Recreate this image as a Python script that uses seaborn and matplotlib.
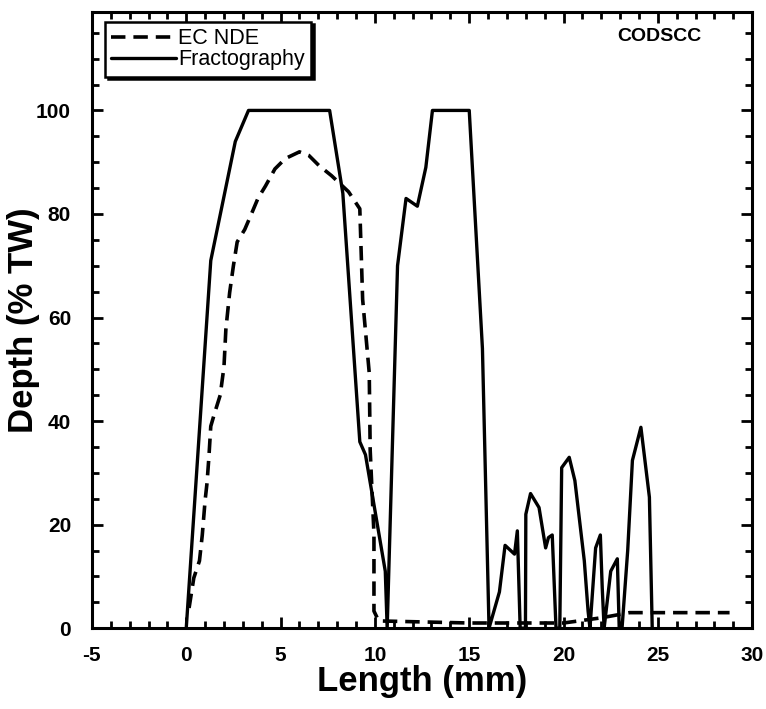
"""
Crack depth profile: EC NDE vs. fractography (CODSCC).
"""

import numpy as np
import pandas as pd
import matplotlib
matplotlib.use("Agg")
import matplotlib.pyplot as plt
import seaborn as sns
from matplotlib.ticker import MultipleLocator

# ── data ─────────────────────────────────────────────────────────────────────
ec_x = [0.15, 0.4, 0.7, 0.85, 1.0, 1.1, 1.2, 1.3, 1.5, 1.8, 2.0, 2.1, 2.3, 2.5,
        2.7, 3.1, 3.5, 3.8, 4.2, 4.7, 5.25, 6.0, 6.5, 7.05, 7.7, 8.6, 9.2, 9.35,
        9.7, 9.75, 9.95, 9.95, 10.2, 15.0, 20.0, 21.0, 22.0, 23.5, 28.8]
ec_y = [3.9, 9.7, 13, 18, 24.7, 28, 33, 39, 41.5, 45, 50.5, 57.7, 64.8, 70,
        74.6, 77, 80.4, 83, 85.4, 88.7, 90.7, 92, 91.3, 89.3, 87.4, 84.3, 81, 63.5,
        49.3, 34.4, 18.2, 3.3, 1.4, 1.0, 1.0, 1.5, 2.0, 3.0, 3.0]

frac_x = [0, 1.3, 2.6, 3.3, 7.6, 8.3, 9.2, 9.5, 10.55, 10.65,
          11.2, 11.65, 12.25, 12.7, 13.05, 15.0, 15.7, 16.05,
          16.6, 16.9, 17.4, 17.55, 17.7, 17.98,
          18.0, 18.25, 18.7, 19.05, 19.2, 19.4, 19.6,
          19.8, 19.9, 20.3, 20.6, 21.1, 21.3, 21.4,
          21.7, 21.95, 22.05, 22.15,
          22.5, 22.85, 22.95,
          23.1, 23.4, 23.65, 24.1, 24.55, 24.7]
frac_y = [0, 71, 94, 100, 100, 84, 36, 33.5, 11, 0,
          70, 83, 81.5, 89, 100, 100, 54, 0,
          7, 16, 14.3, 18.8, 0, 0,
          22, 26, 23.3, 15.5, 17.5, 18, 0,
          0, 31, 33, 28.5, 13, 3.3, 0,
          15.5, 18, 7.8, 0,
          11, 13.4, 0,
          0, 15, 32.4, 38.8, 25.3, 0]

ec = pd.DataFrame({"Length": ec_x, "Depth": ec_y})
frac = pd.DataFrame({"Length": frac_x, "Depth": frac_y})

# ── plot ─────────────────────────────────────────────────────────────────────
sns.set_style("ticks")
plt.rcParams["font.family"] = ["Liberation Sans", "DejaVu Sans"]
plt.rcParams["font.weight"] = "bold"
plt.rcParams["axes.unicode_minus"] = False
plt.rcParams["text.color"] = "black"
plt.rcParams["axes.labelcolor"] = "black"
plt.rcParams["xtick.color"] = "black"
plt.rcParams["ytick.color"] = "black"
plt.rcParams["axes.edgecolor"] = "black"

fig = plt.figure(figsize=(7.66, 7.09), dpi=100)
ax = fig.add_axes([0.12, 0.114, 0.862, 0.869])

sns.lineplot(data=ec, x="Length", y="Depth", sort=False, estimator=None,
             color="black", lw=2.6, ax=ax, label="EC NDE")
sns.lineplot(data=frac, x="Length", y="Depth", sort=False, estimator=None,
             color="black", lw=2.4, ax=ax, label="Fractography")
ax.lines[0].set_linestyle((0, (4, 2.2)))

ax.set_xlim(-5, 30)
ax.set_ylim(0, 119)
ax.xaxis.set_major_locator(MultipleLocator(5))
ax.xaxis.set_minor_locator(MultipleLocator(1))
ax.yaxis.set_major_locator(MultipleLocator(20))
ax.yaxis.set_minor_locator(MultipleLocator(5))
ax.tick_params(which="both", direction="in", top=True, right=True, width=2)
ax.tick_params(which="major", length=8, labelsize=15)
ax.tick_params(axis="x", which="major", pad=13)
ax.tick_params(axis="y", which="major", pad=15)
ax.tick_params(which="minor", length=5)
for lab in ax.get_xticklabels() + ax.get_yticklabels():
    lab.set_fontweight("bold")
for sp in ax.spines.values():
    sp.set_linewidth(2.2)

ax.set_xlabel("Length (mm)", fontsize=25, fontweight="bold", labelpad=0)
ax.set_ylabel("Depth (% TW)", fontsize=25, fontweight="bold")
ax.yaxis.set_label_coords(-0.079, 0.5)

ax.text(25.1, 114.2, "CODSCC", fontsize=14, fontweight="bold",
        ha="center", va="center")

leg = ax.legend(loc="upper left", fontsize=15.5, frameon=True, fancybox=False,
                shadow={"color": "black", "alpha": 1}, handlelength=3.0,
                handletextpad=0.1, borderpad=0.3, labelspacing=0.0,
                borderaxespad=0.3, bbox_to_anchor=(0.01, 0.995))
leg.get_frame().set_edgecolor("black")
leg.get_frame().set_linewidth(1.8)
for t in leg.get_texts():
    t.set_fontweight("normal")

fig.savefig("out.png", dpi=100)
